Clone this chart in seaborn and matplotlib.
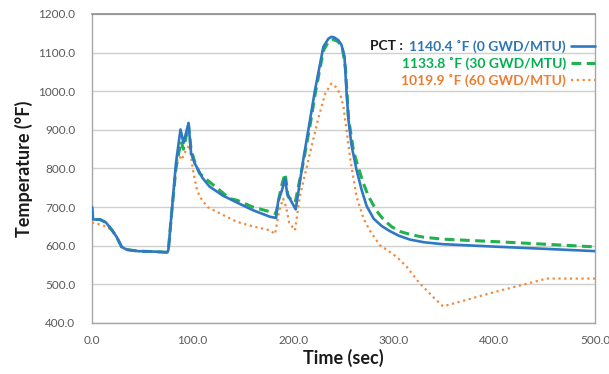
import matplotlib
matplotlib.use("Agg")
import matplotlib.pyplot as plt
import seaborn as sns
import pandas as pd
from matplotlib.lines import Line2D

# ---- data ----
t_0gwd = [0, 1, 8, 14, 20, 24.5, 29.5, 34.5, 46, 60, 75, 76, 79, 83.5, 88, 91, 96, 98.5,
          102, 110, 117, 130, 144, 160, 177, 183, 185, 189, 192, 194, 196, 202.5, 210, 216.7,
          221.7, 230, 235, 238, 241, 245, 248, 251, 253, 255, 258, 263, 268, 273, 280, 288, 296,
          305, 316, 330, 349, 406, 450, 500]
T_0gwd = [700, 668, 668, 660, 640, 623, 597, 590, 586, 585, 583, 590, 680, 814, 901, 866, 918, 840,
          814, 775, 753, 730, 712, 692, 675, 672, 714, 745, 774, 735, 725, 694, 822, 925,
          1003, 1115, 1136, 1141, 1139, 1132, 1120, 1090, 1000, 925, 860, 796, 745, 703, 670, 651, 638,
          626, 616, 609, 604, 597, 592, 586]

t_30gwd = [0, 1, 8, 14, 20, 24.5, 29.5, 34.5, 46, 60, 75, 76, 79, 83.5, 87, 88.5, 91, 96, 98.5,
           102, 107, 117, 137, 144, 160, 177, 183, 186, 189, 192, 195, 198, 202, 210, 217, 222,
           230, 235, 240, 245, 249, 252, 255, 260, 265, 270, 275, 283, 290, 298, 306, 318, 330,
           349, 406, 450, 500]
T_30gwd = [700, 668, 668, 660, 640, 623, 597, 590, 586, 585, 583, 590, 680, 800, 850, 870, 850, 912, 850,
           818, 787, 765, 722, 718, 700, 688, 683, 725, 760, 787, 727, 720, 712, 815, 915, 995,
           1105, 1128, 1134, 1128, 1110, 1060, 930, 845, 800, 760, 727, 690, 667, 649, 637, 628, 622,
           617, 610, 604, 597]

t_60gwd = [0, 8, 14, 20, 24.5, 29.5, 34.5, 46, 60, 75, 76, 79, 83, 86, 89, 92, 96.7, 99, 101,
           104, 107, 115, 127, 144, 160, 177, 182, 186, 190, 193, 196, 201.8, 206.8, 216.7, 225,
           232, 238, 243, 247, 250, 253, 257, 263, 270, 276, 286, 296, 303, 313, 325, 340, 349,
           400, 452, 500]
T_60gwd = [660, 655, 650, 640, 623, 597, 590, 586, 585, 583, 590, 670, 790, 839, 822, 840, 861, 820, 787,
           750, 727, 700, 684, 662, 650, 640, 630, 690, 722, 700, 660, 640, 730, 840, 930,
           995, 1020, 1010, 990, 960, 900, 820, 727, 670, 640, 602, 584, 571, 545, 505, 465, 443,
           480, 515, 515]

series_labels = ["1140.4 \u02daF (0 GWD/MTU)", "1133.8 \u02daF (30 GWD/MTU)", "1019.9 \u02daF (60 GWD/MTU)"]
x_ticks = [0, 100, 200, 300, 400, 500]
y_ticks = [400, 500, 600, 700, 800, 900, 1000, 1100, 1200]

# ---- style ----
sns.set_theme(style="white")
plt.rcParams["font.family"] = ["Lato", "DejaVu Sans"]

c_blue = "#2F78C4"
c_green = "#22B14C"
c_orange = "#F08A3C"
txt_blue = "#2E75B6"
txt_green = "#00B050"
txt_orange = "#ED7D31"

fig = plt.figure(figsize=(6.09, 3.74), dpi=100)
ax = fig.add_axes([0.151, 0.1364, 0.826, 0.8262])

df0 = pd.DataFrame({"t": t_0gwd, "T": T_0gwd})
df30 = pd.DataFrame({"t": t_30gwd, "T": T_30gwd})
df60 = pd.DataFrame({"t": t_60gwd, "T": T_60gwd})

sns.lineplot(data=df60, x="t", y="T", ax=ax, color=c_orange, lw=1.6,
             linestyle=(0, (1, 1.6)), sort=False, estimator=None, zorder=3)
sns.lineplot(data=df30, x="t", y="T", ax=ax, color=c_green, lw=2.2,
             linestyle=(0, (3.2, 1.8)), sort=False, estimator=None, zorder=4)
sns.lineplot(data=df0, x="t", y="T", ax=ax, color=c_blue, lw=1.9,
             sort=False, estimator=None, zorder=5)

ax.set_xlim(0, 500)
ax.set_ylim(400, 1200)
ax.set_xticks(x_ticks)
ax.set_yticks(y_ticks)
ax.set_xticklabels([f"{v:.1f}" for v in x_ticks])
ax.set_yticklabels([f"{v:.1f}" for v in y_ticks])
ax.tick_params(axis="both", length=0, labelsize=8.5, colors="#595959")
ax.tick_params(axis="y", pad=12)
ax.tick_params(axis="x", pad=9)
ax.grid(axis="y", color="#D0D0D0", lw=1.0)
ax.grid(axis="x", visible=False)
for s in ["left", "bottom", "right"]:
    ax.spines[s].set_color("#A6A6A6")
    ax.spines[s].set_linewidth(1.0)
ax.spines["top"].set_color("#8C8C8C")
ax.spines["top"].set_linewidth(1.2)

ax.set_xlabel("Time (sec)", fontsize=13, fontweight="bold", color="#1A1A1A", labelpad=2)
ax.set_ylabel("Temperature (\u00b0F)", fontsize=13, fontweight="bold", color="#1A1A1A", labelpad=4)

handles = [Line2D([], [], color=c_blue, lw=1.9),
           Line2D([], [], color=c_green, lw=2.2, linestyle=(0, (3.2, 1.8))),
           Line2D([], [], color=c_orange, lw=1.6, linestyle=(0, (1, 1.6)))]
leg = ax.legend(handles, series_labels, loc="upper right", bbox_to_anchor=(1.0, 0.917),
                frameon=False, markerfirst=False, handlelength=1.7, handletextpad=0.4,
                labelspacing=0.3, borderpad=0, borderaxespad=0,
                prop={"family": ["Lato", "DejaVu Sans"], "weight": "bold", "size": 10},
                labelcolor=[txt_blue, txt_green, txt_orange])
fig.canvas.draw()
bb = leg.get_texts()[0].get_window_extent()
inv = ax.transAxes.inverted()
(x0, y0), (x1, y1) = inv.transform([[bb.x0, bb.y0], [bb.x1, bb.y1]])
ax.text(x0 - 0.012, (y0 + y1) / 2, "PCT :", transform=ax.transAxes, ha="right", va="center",
        fontsize=10, fontweight="bold", color="#1A1A1A")

fig.savefig("out.png", dpi=100)
